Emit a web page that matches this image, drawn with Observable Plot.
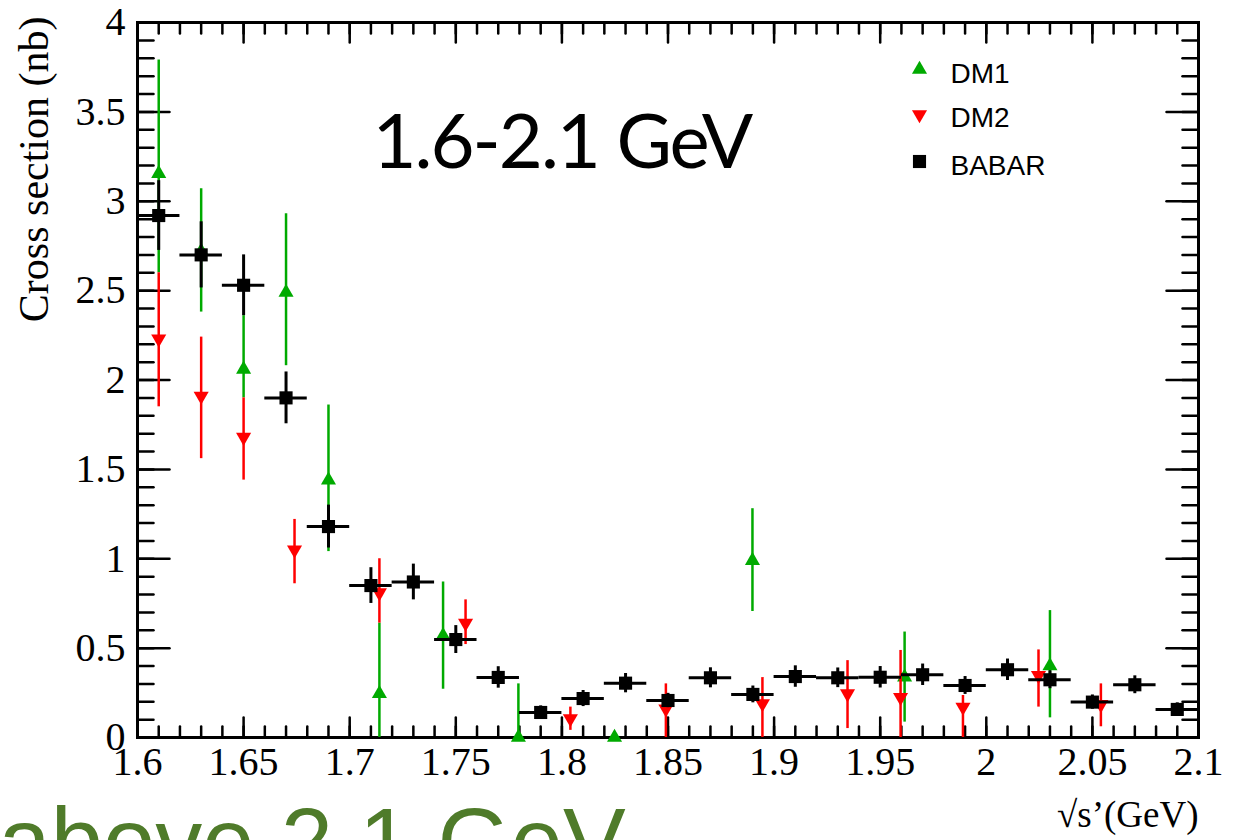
<!DOCTYPE html>
<html>
<head>
<meta charset="utf-8">
<script src="https://cdn.jsdelivr.net/npm/d3@7"></script>
<script src="https://cdn.jsdelivr.net/npm/@observablehq/plot@0.6"></script>
<style>
html, body { margin: 0; padding: 0; background: #fff; overflow: hidden; }
#chart svg { display: block; }
</style>
</head>
<body>
<div id="chart"></div>
<script>
// ---- Data ----
const babarX   = [1.61, 1.63, 1.65, 1.67, 1.69, 1.71, 1.73, 1.75, 1.77, 1.79, 1.81, 1.83, 1.85, 1.87, 1.89, 1.91, 1.93, 1.95, 1.97, 1.99, 2.01, 2.03, 2.05, 2.07, 2.09];
const babarY   = [2.92, 2.70, 2.53, 1.90, 1.18, 0.85, 0.87, 0.548, 0.336, 0.14, 0.218, 0.304, 0.207, 0.334, 0.241, 0.341, 0.334, 0.337, 0.351, 0.291, 0.379, 0.323, 0.198, 0.295, 0.157];
const babarErr = [0.195, 0.185, 0.17, 0.145, 0.12, 0.10, 0.10, 0.078, 0.06, 0.037, 0.045, 0.054, 0.04, 0.056, 0.047, 0.06, 0.055, 0.06, 0.06, 0.05, 0.06, 0.05, 0.04, 0.05, 0.037];
const babarHalfBin = 0.01;

const dm1X  = [1.61, 1.63, 1.65, 1.67, 1.69, 1.714, 1.744, 1.7795, 1.8248, 1.8898, 1.9615, 2.030];
const dm1Y  = [3.155, 2.72, 2.06, 2.49, 1.44, 0.245, 0.57, 0.0, 0.0, 0.99, 0.337, 0.40];
const dm1Lo = [2.60, 2.38, 1.90, 2.08, 1.04, 0.0, 0.27, 0.0, 0.0, 0.705, 0.086, 0.11];
const dm1Hi = [3.79, 3.07, 2.36, 2.93, 1.86, 0.64, 0.87, 0.30, 0.0, 1.28, 0.59, 0.71];

const dm2X  = [1.61, 1.63, 1.65, 1.674, 1.714, 1.7546, 1.804, 1.849, 1.8945, 1.9346, 1.9596, 1.989, 2.0246, 2.054];
const dm2Y  = [2.23, 1.91, 1.68, 1.05, 0.81, 0.64, 0.106, 0.16, 0.19, 0.245, 0.225, 0.17, 0.347, 0.185];
const dm2Lo = [1.85, 1.56, 1.44, 0.86, 0.64, 0.52, 0.04, 0.0, 0.0, 0.05, 0.0, 0.0, 0.17, 0.06];
const dm2Hi = [2.60, 2.24, 1.90, 1.22, 1.00, 0.77, 0.17, 0.30, 0.335, 0.43, 0.487, 0.235, 0.49, 0.30];

const xTickLabels = [1.6, 1.65, 1.7, 1.75, 1.8, 1.85, 1.9, 1.95, 2, 2.05, 2.1];
const yTickLabels = [0, 0.5, 1, 1.5, 2, 2.5, 3, 3.5, 4];
const xMinorTicks = d3.range(0, 51).map(i => +(1.6 + i * 0.01).toFixed(2));
const yMinorTicks = d3.range(0, 41).map(i => +(i * 0.1).toFixed(1));

const seriesNames = ["DM1", "DM2", "BABAR"];
const titleText = "1.6-2.1 GeV";
const yTitle = "Cross section (nb)";
const xTitle = "\u221As\u2019(GeV)";
const footerText = "above 2.1 GeV";

// ---- Build tables ----
const babar = babarX.map((x, i) => ({x, y: babarY[i], e: babarErr[i]}));
const dm1 = dm1X.map((x, i) => ({x, y: dm1Y[i], lo: dm1Lo[i], hi: dm1Hi[i]}));
const dm2 = dm2X.map((x, i) => ({x, y: dm2Y[i], lo: dm2Lo[i], hi: dm2Hi[i]}));

const GREEN = "#00aa00", RED = "#ff0000", BLACK = "#000000", OLIVE = "#4f7b2a";
const SERIF = "'Liberation Serif', 'Times New Roman', serif";
const SANS = "'Liberation Sans', Arial, Helvetica, sans-serif";

const lineShape = {draw(ctx, l) { ctx.moveTo(0, 0); ctx.lineTo(0, -l); }};
function ticks(values, side, len) {
  const rot = {bottom: 0, top: 180, left: 90, right: -90}[side];
  const horiz = side === "bottom" || side === "top";
  return Plot.vector(values, {
    [horiz ? "x" : "y"]: d => d,
    frameAnchor: side, length: len, rotate: rot, anchor: "start",
    shape: lineShape, stroke: BLACK, strokeWidth: 2.5
  });
}

const TRI_R = 5.6, SQ_R = 7.4;

const chart = Plot.plot({
  width: 1256, height: 840,
  marginLeft: 137, marginRight: 58, marginTop: 22, marginBottom: 103,
  style: {fontFamily: SERIF, background: "#ffffff", color: BLACK},
  x: {domain: [1.6, 2.1]},
  y: {domain: [0, 4]},
  marks: [
    // footer text (slide text below the chart)
    Plot.text([footerText], {frameAnchor: "bottom-left", lineAnchor: "middle", textAnchor: "start", dx: -139, dy: 106, fontSize: 94, fontFamily: SANS, fill: OLIVE}),

    // tick labels
    Plot.axisX({anchor: "bottom", ticks: xTickLabels, tickSize: 0, tickPadding: 9, tickFormat: d => String(d), fontSize: 40, label: null}),
    Plot.axisY({anchor: "left", ticks: yTickLabels, tickSize: 0, tickPadding: 12, tickFormat: d => String(d), fontSize: 40, label: null}),
    // inward ticks on all four sides
    ticks(xMinorTicks, "bottom", 11), ticks(xTickLabels, "bottom", 20),
    ticks(xMinorTicks, "top", 11), ticks(xTickLabels, "top", 20),
    ticks(yMinorTicks, "left", 16), ticks(yTickLabels, "left", 32),
    ticks(yMinorTicks, "right", 16), ticks(yTickLabels, "right", 32),
    Plot.frame({stroke: BLACK, strokeWidth: 3}),

    // DM1
    Plot.ruleX(dm1, {x: "x", y1: "lo", y2: "hi", stroke: GREEN, strokeWidth: 2.5}),
    Plot.dot(dm1, {x: "x", y: "y", symbol: "triangle", r: TRI_R, fill: GREEN, stroke: "none"}),
    // DM2
    Plot.ruleX(dm2, {x: "x", y1: "lo", y2: "hi", stroke: RED, strokeWidth: 2.5}),
    Plot.dot(dm2, {x: "x", y: "y", symbol: "triangle", rotate: 180, r: TRI_R, fill: RED, stroke: "none"}),
    // BABAR
    Plot.ruleX(babar, {x: "x", y1: d => d.y - d.e, y2: d => d.y + d.e, stroke: BLACK, strokeWidth: 3}),
    Plot.ruleY(babar, {y: "y", x1: d => d.x - babarHalfBin, x2: d => d.x + babarHalfBin, stroke: BLACK, strokeWidth: 3}),
    Plot.dot(babar, {x: "x", y: "y", symbol: "square", r: SQ_R, fill: BLACK, stroke: "none"}),

    // title inside frame
    Plot.text([titleText], {frameAnchor: "top-left", lineAnchor: "middle", dx: 235, dy: 121, textAnchor: "start", fontSize: 76, fontFamily: "Lato, 'Open Sans', sans-serif", fill: BLACK}),

    // legend
    Plot.dot([seriesNames[0]], {frameAnchor: "top-left", dx: 782, dy: 47, symbol: "triangle", r: TRI_R, fill: GREEN}),
    Plot.dot([seriesNames[1]], {frameAnchor: "top-left", dx: 782, dy: 92, symbol: "triangle", rotate: 180, r: TRI_R, fill: RED}),
    Plot.dot([seriesNames[2]], {frameAnchor: "top-left", dx: 782, dy: 139, symbol: "square", r: SQ_R, fill: BLACK}),
    Plot.text([seriesNames[0]], {frameAnchor: "top-left", lineAnchor: "middle", dx: 813, dy: 52, textAnchor: "start", fontSize: 28, fontFamily: SANS, fill: BLACK}),
    Plot.text([seriesNames[1]], {frameAnchor: "top-left", lineAnchor: "middle", dx: 813, dy: 96, textAnchor: "start", fontSize: 28, fontFamily: SANS, fill: BLACK}),
    Plot.text([seriesNames[2]], {frameAnchor: "top-left", lineAnchor: "middle", dx: 813, dy: 144, textAnchor: "start", fontSize: 28, fontFamily: SANS, fill: BLACK}),

    // axis titles
    Plot.text([yTitle], {frameAnchor: "top-left", lineAnchor: "middle", rotate: -90, textAnchor: "end", dx: -103, dy: -6, fontSize: 42, fontFamily: SERIF, fill: BLACK}),
    Plot.text([xTitle], {frameAnchor: "bottom-right", lineAnchor: "middle", textAnchor: "end", dx: 0, dy: 78, fontSize: 37, fontFamily: SERIF, fill: BLACK})
  ]
});
// tighten title letter spacing to mimic the narrow original face
d3.select(chart).selectAll("text").filter(function() { return this.textContent === titleText; }).style("letter-spacing", "-2px");
document.getElementById("chart").appendChild(chart);
</script>
</body>
</html>
